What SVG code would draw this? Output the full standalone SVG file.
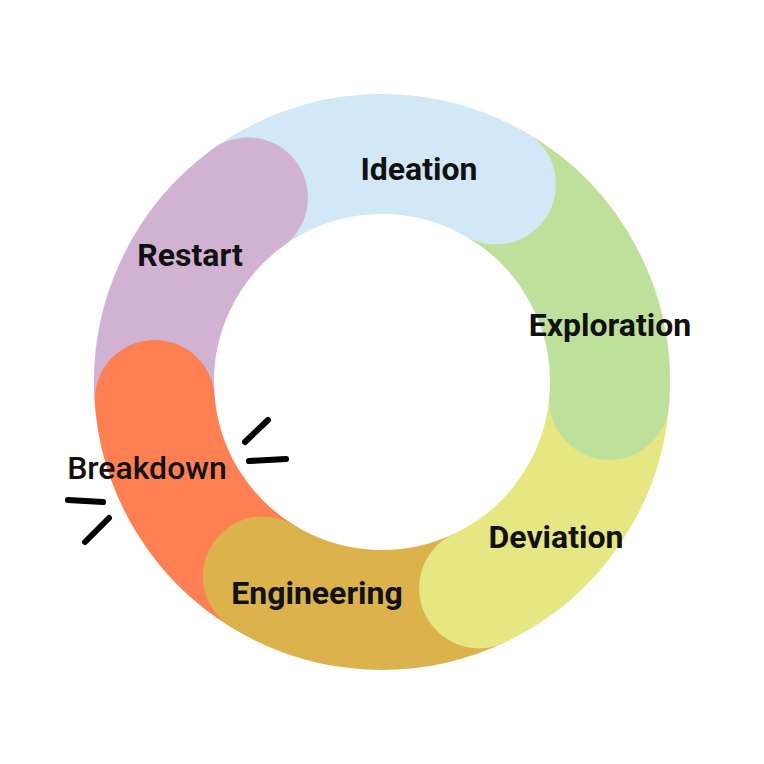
<svg xmlns="http://www.w3.org/2000/svg" width="764" height="764" viewBox="0 0 764 764">
<style>
.a{fill:none;stroke-width:120;stroke-linecap:butt}
.t{font-family:Roboto,"Liberation Sans",sans-serif;font-size:32px;font-weight:bold;fill:#111;text-anchor:middle}
.m{stroke:#000;stroke-width:6;stroke-linecap:round;fill:none}
</style>
<rect width="764" height="764" fill="#fff"/>
<g id="ring">
<path class="a" stroke="#D2E8F6" d="M248,197.5 A228,228 0 0 1 496,184.5"/>
<path class="a" stroke="#BDE09A" d="M496,184.5 A228,228 0 0 1 609.3,399.9"/>
<path class="a" stroke="#E6E683" d="M609.3,399.9 A228,228 0 0 1 479.1,588.3"/>
<path class="a" stroke="#DBB24C" d="M479.1,588.3 A228,228 0 0 1 262.9,576.4"/>
<path class="a" stroke="#FD7F52" d="M262.9,576.4 A228,228 0 0 1 154.7,399.9"/>
<path class="a" stroke="#D2B2D2" d="M154.7,399.9 A228,228 0 0 1 248,197.5"/>
<circle cx="496" cy="184.5" r="60" fill="#D2E8F6"/>
<circle cx="609.3" cy="399.9" r="60" fill="#BDE09A"/>
<circle cx="479.1" cy="588.3" r="60" fill="#E6E683"/>
<circle cx="262.9" cy="576.4" r="60" fill="#DBB24C"/>
<circle cx="154.7" cy="399.9" r="60" fill="#FD7F52"/>
<circle cx="248" cy="197.5" r="60" fill="#D2B2D2"/>
</g>
<g id="ideation"><text class="t" x="419" y="180">Ideation</text></g>
<g id="restart"><text class="t" x="190" y="266">Restart</text></g>
<g id="exploration"><text class="t" x="610" y="336">Exploration</text></g>
<g id="deviation"><text class="t" x="556" y="548">Deviation</text></g>
<g id="engineering"><text class="t" x="317" y="604">Engineering</text></g>
<g id="breakdown"><text class="t" x="147" y="479" style="font-weight:500">Breakdown</text>
<path class="m" d="M245,442 L268,420 M249,461 L286,459 M68,500 L103,502 M85,542 L109,518"/></g>
</svg>
